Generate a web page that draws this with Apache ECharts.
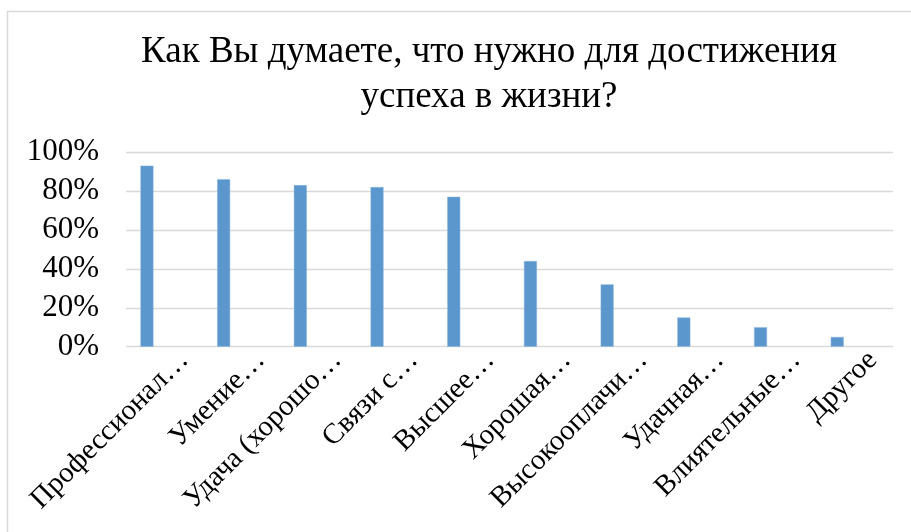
<!DOCTYPE html>
<html>
<head>
<meta charset="utf-8">
<script src="https://cdn.jsdelivr.net/npm/echarts@6/dist/echarts.min.js"></script>
<style>
html,body{margin:0;padding:0;background:#fff;}
#chart{width:911px;height:532px;}
</style>
</head>
<body>
<div id="chart"></div>
<script>
const titleText = 'Как Вы думаете, что нужно для достижения\nуспеха в жизни?';
const categories = ['Профессионал…', 'Умение…', 'Удача (хорошо…', 'Связи с…', 'Высшее…', 'Хорошая…', 'Высокооплачи…', 'Удачная…', 'Влиятельные…', 'Другое'];
const values = [93, 86, 83, 82, 77, 44, 32, 15, 10, 5];
const yTicks = [0, 20, 40, 60, 80, 100];

const chart = echarts.init(document.getElementById('chart'), null, {renderer: 'canvas'});
const font = 'Liberation Serif, Times New Roman, serif';
const gTop = 152, gH = 194.7, gW = 767;

chart.setOption({
  backgroundColor: '#fff',
  animation: false,
  graphic: [{
    type: 'rect', silent: true, z: -1,
    shape: {x: 7.5, y: 11.5, width: 1000, height: 600},
    style: {fill: 'none', stroke: '#d9d9d9', lineWidth: 1.5}
  }],
  title: {
    text: titleText,
    left: 484, top: 25, textAlign: 'center',
    textStyle: {fontFamily: font, fontSize: 37, fontWeight: 'normal', color: '#000', lineHeight: 45}
  },
  grid: [
    {left: 108.6, top: gTop, width: gW, height: gH},
    {left: 126, top: gTop, width: gW, height: gH},
    {left: 146, top: gTop, width: gW, height: gH}
  ],
  xAxis: [
    {type: 'category', gridIndex: 0, data: categories, show: false},
    {type: 'category', gridIndex: 1, data: categories, show: false},
    {type: 'category', gridIndex: 2, data: categories,
     axisLine: {show: false}, axisTick: {show: false},
     axisLabel: {interval: 0, rotate: 45, margin: 9, fontFamily: font, fontSize: 29, color: '#000', hideOverlap: false}}
  ],
  yAxis: [
    {type: 'value', gridIndex: 0, min: 0, max: 100, show: false},
    {type: 'value', gridIndex: 1, min: yTicks[0], max: yTicks[yTicks.length - 1], interval: 20,
     axisLine: {show: false}, axisTick: {show: false},
     splitLine: {lineStyle: {color: '#d9d9d9', width: 1.3}},
     axisLabel: {formatter: '{value}%', margin: 27, fontFamily: font, fontSize: 31, color: '#000'}},
    {type: 'value', gridIndex: 2, min: 0, max: 100, show: false}
  ],
  series: [{
    type: 'bar', xAxisIndex: 0, yAxisIndex: 0,
    data: values, barWidth: 13,
    itemStyle: {color: '#5B97CD', borderColor: '#8db6dd', borderWidth: 0.5}
  }]
});
</script>
</body>
</html>
